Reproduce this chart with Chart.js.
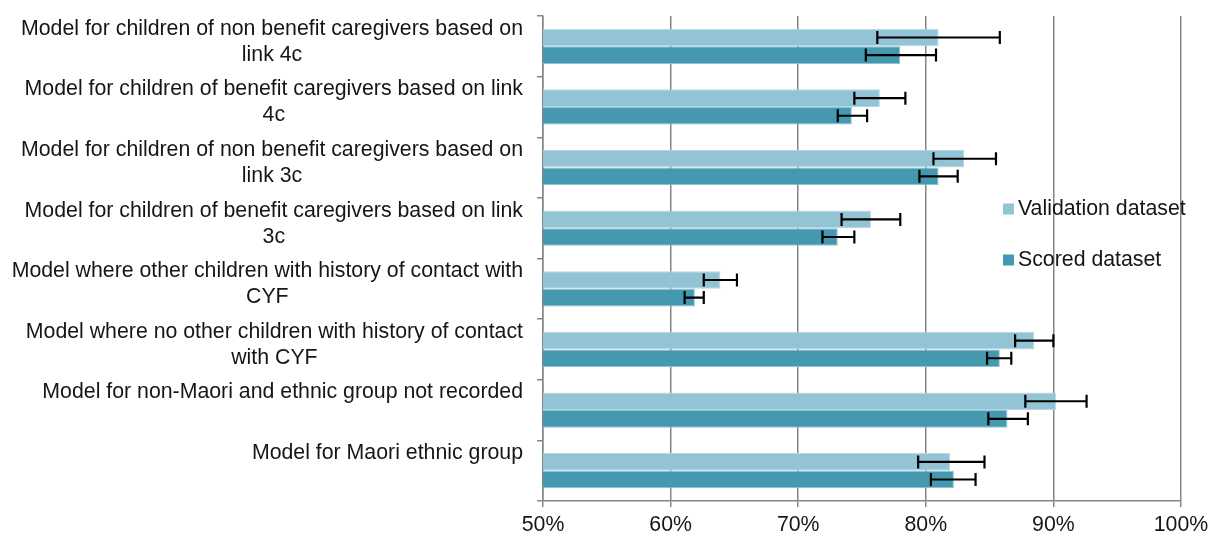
<!DOCTYPE html>
<html lang="en">
<head>
    <meta charset="UTF-8">
    <title>Model accuracy by dataset</title>
    <script src="https://cdn.jsdelivr.net/npm/chart.js"></script>
    <style>
        html, body { margin: 0; padding: 0; background: #fff; }
        .chart-box { width: 1210px; height: 536px; position: relative; }
    </style>
</head>
<body>
    <div class="chart-box">
        <canvas id="modelChart"></canvas>
    </div>
    <script>
        // Category labels (already wrapped the way the original shows them)
        const categories = [
            ['Model for children of non benefit caregivers based on', 'link 4c'],
            ['Model for children of benefit caregivers based on link', '4c'],
            ['Model for children of non benefit caregivers based on', 'link 3c'],
            ['Model for children of benefit caregivers based on link', '3c'],
            ['Model where other children with history of contact with', 'CYF'],
            ['Model where no other children with history of contact', 'with CYF'],
            ['Model for non-Maori and ethnic group not recorded'],
            ['Model for Maori ethnic group']
        ];

        // Values in percent
        const validation     = [81.0, 76.4, 83.0, 75.7, 63.9, 88.5, 90.2, 81.9];
        const validationLow  = [76.2, 74.4, 80.6, 73.4, 62.6, 87.0, 87.8, 79.4];
        const validationHigh = [85.8, 78.4, 85.5, 78.0, 65.2, 90.0, 92.6, 84.6];

        const scored     = [78.0, 74.2, 81.0, 73.1, 61.9, 85.8, 86.4, 82.2];
        const scoredLow  = [75.3, 73.1, 79.5, 71.9, 61.1, 84.8, 84.9, 80.4];
        const scoredHigh = [80.8, 75.4, 82.5, 74.4, 62.6, 86.7, 88.0, 83.9];

        const xTicks = [50, 60, 70, 80, 90, 100];

        const FONT = '"Liberation Sans", Arial, sans-serif';
        const FONT_SIZE = 21.3;
        const TEXT = '#161616';
        const GRID = '#868686';

        const errorRanges = [
            { low: validationLow, high: validationHigh },
            { low: scoredLow, high: scoredHigh }
        ];

        // Error bars with caps, placed through the x scale
        const errorBarPlugin = {
            id: 'errorBars',
            afterDatasetsDraw(chart) {
                const ctx = chart.ctx;
                const x = chart.scales.x;
                ctx.save();
                ctx.strokeStyle = '#000';
                ctx.lineWidth = 2.2;
                chart.data.datasets.forEach((ds, d) => {
                    const meta = chart.getDatasetMeta(d);
                    meta.data.forEach((bar, i) => {
                        const x1 = x.getPixelForValue(errorRanges[d].low[i]);
                        const x2 = x.getPixelForValue(errorRanges[d].high[i]);
                        const y = bar.y;
                        ctx.beginPath();
                        ctx.moveTo(x1, y);
                        ctx.lineTo(x2, y);
                        ctx.moveTo(x1, y - 6.5);
                        ctx.lineTo(x1, y + 6.5);
                        ctx.moveTo(x2, y - 6.5);
                        ctx.lineTo(x2, y + 6.5);
                        ctx.stroke();
                    });
                });
                ctx.restore();
            }
        };

        // Category labels: block right-aligned to the axis, lines centred inside it
        const categoryLabelPlugin = {
            id: 'categoryLabels',
            afterDraw(chart) {
                const ctx = chart.ctx;
                const y = chart.scales.y;
                const rightEdge = chart.chartArea.left - 20;
                ctx.save();
                ctx.font = FONT_SIZE + 'px ' + FONT;
                ctx.fillStyle = TEXT;
                ctx.textAlign = 'center';
                ctx.textBaseline = 'middle';
                categories.forEach((lines, i) => {
                    const cy = y.getPixelForValue(i);
                    const w = Math.max(...lines.map(l => ctx.measureText(l).width));
                    const cx = rightEdge - w / 2;
                    lines.forEach((line, k) => {
                        ctx.fillText(line, cx, cy - 17.5 + k * 26);
                    });
                });
                ctx.restore();
            }
        };

        // Legend sitting inside the plot, on the right
        const insideLegendPlugin = {
            id: 'insideLegend',
            afterDraw(chart) {
                const ctx = chart.ctx;
                const area = chart.chartArea;
                const left = area.right - 178;
                const rows = [area.top + 193, area.top + 244];
                ctx.save();
                ctx.font = FONT_SIZE + 'px ' + FONT;
                ctx.textAlign = 'left';
                ctx.textBaseline = 'middle';
                chart.data.datasets.forEach((ds, d) => {
                    ctx.fillStyle = ds.backgroundColor;
                    ctx.fillRect(left, rows[d] - 5.5, 11, 11);
                    ctx.fillStyle = TEXT;
                    ctx.fillText(ds.label, left + 15, rows[d]);
                });
                ctx.restore();
            }
        };

        new Chart(document.getElementById('modelChart'), {
            type: 'bar',
            data: {
                labels: categories.map(c => c.join(' ')),
                datasets: [
                    {
                        label: 'Validation dataset',
                        data: validation,
                        backgroundColor: '#93c4d5',
                        borderColor: '#b5d7e3',
                        borderWidth: 1,
                        categoryPercentage: 0.58,
                        barPercentage: 1.0
                    },
                    {
                        label: 'Scored dataset',
                        data: scored,
                        backgroundColor: '#4499b1',
                        borderColor: '#8cc2d2',
                        borderWidth: 1,
                        categoryPercentage: 0.58,
                        barPercentage: 1.0
                    }
                ]
            },
            options: {
                indexAxis: 'y',
                responsive: true,
                maintainAspectRatio: false,
                animation: false,
                layout: { padding: { top: 16, right: 29, left: 0, bottom: 0 } },
                plugins: {
                    legend: { display: false },
                    tooltip: { enabled: false }
                },
                scales: {
                    x: {
                        min: 50,
                        max: 100,
                        afterBuildTicks(scale) {
                            scale.ticks = xTicks.map(v => ({ value: v }));
                        },
                        afterFit(scale) {
                            scale.height = 35;
                            scale.paddingRight = 8;
                        },
                        ticks: {
                            color: TEXT,
                            font: { family: FONT, size: FONT_SIZE },
                            padding: 5,
                            maxRotation: 0,
                            callback: v => v + '%'
                        },
                        grid: {
                            color: GRID,
                            lineWidth: 1.5,
                            drawTicks: true,
                            tickLength: 6
                        },
                        border: { display: true, color: GRID, width: 1.5 }
                    },
                    y: {
                        afterFit(scale) { scale.width = 543; },
                        ticks: { display: false },
                        grid: {
                            drawOnChartArea: false,
                            drawTicks: true,
                            tickLength: 6,
                            color: GRID,
                            lineWidth: 1.5,
                            offset: true
                        },
                        border: { display: true, color: GRID, width: 1.5 }
                    }
                }
            },
            plugins: [errorBarPlugin, categoryLabelPlugin, insideLegendPlugin]
        });
    </script>
</body>
</html>
